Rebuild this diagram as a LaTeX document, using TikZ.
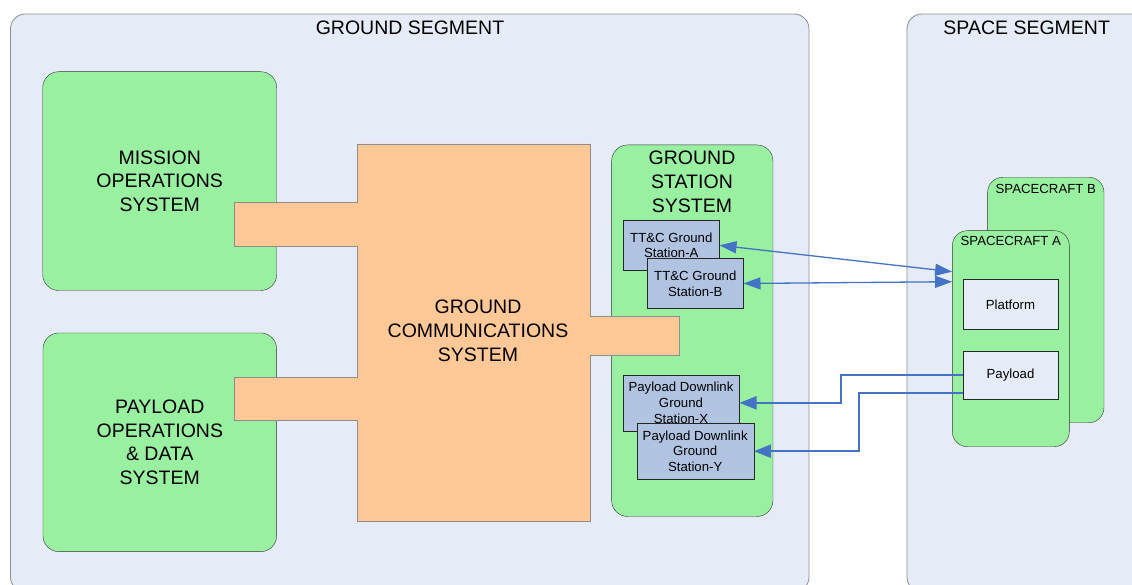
\documentclass[tikz,border=0pt]{standalone}
\usepackage{fontspec}
\setmainfont{Liberation Sans}
\usepackage{xcolor}
\usepackage{tikz}
\usetikzlibrary{arrows.meta}

\definecolor{segfill}{RGB}{230,236,247}
\definecolor{sysgreen}{RGB}{152,240,160}
\definecolor{gcsorange}{RGB}{255,200,150}
\definecolor{stnblue}{RGB}{176,196,226}
\definecolor{linkblue}{RGB}{68,114,196}

\newcommand{\segfont}{\fontsize{19.5}{23.8}\selectfont}
\newcommand{\stnfont}{\fontsize{13.2}{15.8}\selectfont}

\tikzstyle{segment} = [draw=black!45, fill=segfill, rounded corners=15pt, line width=0.8pt]
\tikzstyle{system} = [rectangle, draw=black!80, fill=sysgreen, rounded corners=16pt,
    inner sep=0pt, align=center, font=\segfont]
\tikzstyle{craft} = [rectangle, draw=black!80, fill=sysgreen, rounded corners=15pt, inner sep=0pt]
\tikzstyle{station} = [rectangle, draw=black!85, fill=stnblue, inner sep=0pt,
    align=center, font=\stnfont]
\tikzstyle{unit} = [rectangle, draw=black!85, fill=segfill, inner sep=0pt, font=\stnfont]
\tikzstyle{line} = [draw, linkblue, line width=2pt, -{Triangle[length=17pt, width=13pt]}]
\tikzstyle{dline} = [draw, linkblue, line width=1.3pt,
    {Triangle[length=17pt, width=12pt]}-{Triangle[length=17pt, width=12pt]}]

\begin{document}
\begin{tikzpicture}[x=1pt, y=-1pt]
  \path [use as bounding box, clip] (0,0) rectangle (1132,585);

  % Segments
  \path [segment] (10.5,14) rectangle (809,592);
  \path [segment] (907,14) rectangle (1160,592);
  \node [font=\segfont] (gseg) at (410,28) {GROUND SEGMENT};
  \node [font=\segfont] (sseg) at (1026.7,27.5) {SPACE SEGMENT};

  % Ground systems
  \node [system, minimum width=234pt, minimum height=218.8pt] (mos) at (159.7,181.1)
    {MISSION\\OPERATIONS\\SYSTEM};
  \node [system, minimum width=233.7pt, minimum height=218.7pt] (pods) at (159.8,442.3)
    {PAYLOAD\\OPERATIONS\\\& DATA\\SYSTEM};
  \node [system, minimum width=161.3pt, minimum height=371.5pt] (gss) at (692.3,330.7) {};
  \node [font=\segfont, align=center] (gsslabel) at (692,181.7) {GROUND\\STATION\\SYSTEM};

  % Ground communications with its three links
  \path [draw=black!45, fill=gcsorange, line width=0.7pt]
    (357.7,144) -- (590.7,144) -- (590.7,316.7) -- (679,316.7) -- (679,355)
    -- (590.7,355) -- (590.7,521.7) -- (357.7,521.7) -- (357.7,420)
    -- (234.3,420) -- (234.3,377.3) -- (357.7,377.3) -- (357.7,246)
    -- (234.3,246) -- (234.3,202.7) -- (357.7,202.7) -- cycle;
  \node [font=\segfont, align=center] (gcs) at (478,331)
    {GROUND\\COMMUNICATIONS\\SYSTEM};

  % Ground stations
  \node [station, minimum width=96pt, minimum height=49.3pt] (tcA) at (671.3,245.3)
    {TT\&C Ground\\Station-A};
  \node [station, minimum width=96pt, minimum height=49.6pt] (tcB) at (695.3,283.5)
    {TT\&C Ground\\Station-B};
  \node [station, minimum width=116.6pt, minimum height=55.7pt] (gsX) at (681,402.9)
    {Payload Downlink\\Ground\\Station-X};
  \node [station, minimum width=117pt, minimum height=55.7pt] (gsY) at (695.2,451.2)
    {Payload Downlink\\Ground\\Station-Y};

  % Spacecraft
  \node [craft, minimum width=116.3pt, minimum height=245.4pt,
    label={[anchor=north, inner sep=0pt, yshift=-6.5pt, font=\stnfont]north:SPACECRAFT B}]
    (scB) at (1045.8,300) {};
  \node [craft, minimum width=117pt, minimum height=216pt,
    label={[anchor=north, inner sep=0pt, yshift=-6pt, font=\stnfont]north:SPACECRAFT A}]
    (scA) at (1010.8,338.7) {};
  \node [unit, minimum width=94.4pt, minimum height=50pt] (pf) at (1010.5,304.3) {Platform};
  \node [unit, minimum width=94.4pt, minimum height=48.3pt] (pl) at (1010.5,374.9) {Payload};

  % Links
  \path [dline] (tcA.east) -- ([yshift=67pt]scA.west);
  \path [dline] (tcB.east) -- ([yshift=57pt]scA.west);
  \coordinate (bendX) at (840.7,374.9);
  \coordinate (bendY) at (859.3,392.9);
  \path [line] (pl.west) -- (bendX) |- (gsX.east);
  \path [line] ([yshift=-18pt]pl.west) -- (bendY) |- (gsY.east);
\end{tikzpicture}
\end{document}
